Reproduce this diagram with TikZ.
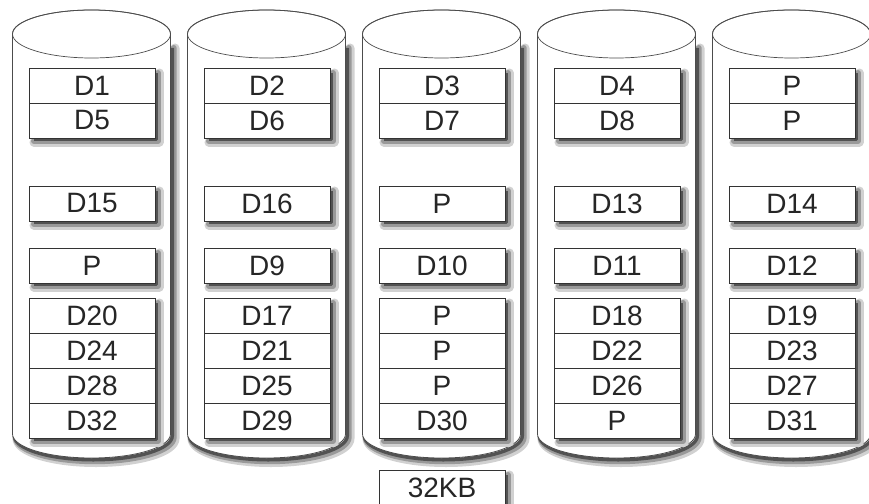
\documentclass[tikz,border=0pt]{standalone}
\usepackage{fontspec}
\setmainfont{Liberation Sans}
\begin{document}
\begin{tikzpicture}[x=1pt,y=1pt,
 cyl/.style={draw=black!70, line width=0.8pt, fill=white},
 topell/.style={draw=black!70, line width=0.7pt},
 grp/.style={draw=black!80, line width=0.8pt, fill=white},
 cell/.style={draw=black!80, line width=0.6pt, minimum width=126pt, minimum height=35pt, inner sep=0pt, font=\fontsize{28}{30}\selectfont, text=black!85},
 lbl/.style={inner sep=0pt, font=\fontsize{28}{30}\selectfont, text=black!85},
 sha/.style={draw=black!18, line width=9pt, line join=round, line cap=round},
 shb/.style={draw=black!40, line width=6pt, line join=round, line cap=round},
 shc/.style={draw=black!68, line width=3.4pt, line join=round},
]
\useasboundingbox (0,0) rectangle (869,-503);
% cylinders
\foreach \i in {0,...,4}{
  \pgfmathsetmacro\L{12.5+175*\i}
  \pgfmathsetmacro\R{\L+158}
  \pgfmathsetmacro\C{\L+79}
  \foreach \st/\d in {sha/4.5, shb/3.2, shc/1.8}{
    \draw[\st] (\R+\d,-48) -- (\R+\d,-434-\d) arc[start angle=0,end angle=-180,x radius=79,y radius=24];
  }
  \path[cyl] (\L,-34) -- (\L,-434) arc[start angle=180,end angle=360,x radius=79,y radius=24] -- (\R,-34) arc[start angle=0,end angle=180,x radius=79,y radius=24] -- cycle;
  \draw[topell] (\C,-34) ellipse[x radius=79, y radius=24];
}
% cells
\foreach \i/\a/\b/\c/\d/\e/\f/\g/\h in {
  0/D1/D5/D15/P/D20/D24/D28/D32,
  1/D2/D6/D16/D9/D17/D21/D25/D29,
  2/D3/D7/P/D10/P/P/P/D30,
  3/D4/D8/D13/D11/D18/D22/D26/P,
  4/P/P/D14/D12/D19/D23/D27/D31}{
  \pgfmathsetmacro\X{12.5+175*\i+16.5}
  \pgfmathsetmacro\M{\X+63}
  \foreach \st/\o in {sha/4, shb/3, shc/1.7}{
    \foreach \t/\hh in {68/70, 186/35, 248/35, 298/140}{
      \draw[\st] (\X+126+\o,-\t-5) -- (\X+126+\o,-\t-\hh-\o) -- (\X+5,-\t-\hh-\o);
    }
  }
  \path[grp] (\X,-68) rectangle ++(126,-70);
  \node[cell] (c\i-a) at (\M,-85.5) {\a};
  \node[cell] (c\i-b) at (\M,-120.5) {\b};
  \path[grp] (\X,-186) rectangle ++(126,-35);
  \node[cell] (c\i-c) at (\M,-203.5) {\c};
  \path[grp] (\X,-248) rectangle ++(126,-35);
  \node[cell] (c\i-d) at (\M,-265.5) {\d};
  \path[grp] (\X,-298) rectangle ++(126,-140);
  \node[cell] (c\i-e) at (\M,-315.5) {\e};
  \node[cell] (c\i-f) at (\M,-350.5) {\f};
  \node[cell] (c\i-g) at (\M,-385.5) {\g};
  \node[cell] (c\i-h) at (\M,-420.5) {\h};
}
\foreach \st/\o in {sha/4, shb/3, shc/1.7}{
  \draw[\st] (505+\o,-475) -- (505+\o,-512);
}
\path[grp] (379,-470) rectangle ++(126,-40);
\node[lbl] (size) at (442,-488) {32KB};
\end{tikzpicture}
\end{document}
